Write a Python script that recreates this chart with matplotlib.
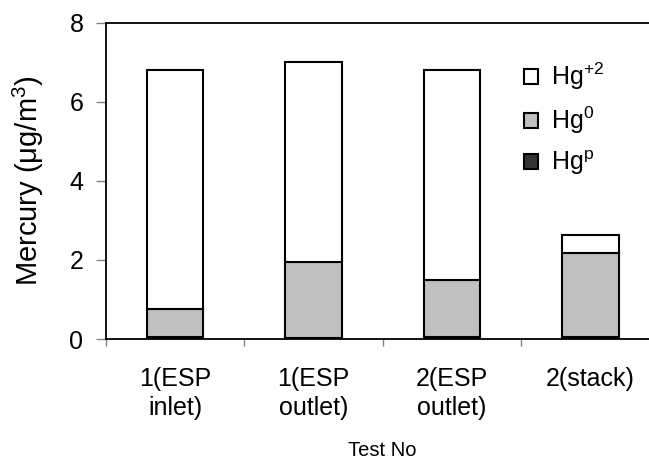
import matplotlib.pyplot as plt
import numpy as np
from matplotlib.patches import Patch

plt.rcParams["font.family"] = ["Liberation Sans", "DejaVu Sans"]
plt.rcParams["mathtext.fontset"] = "custom"
plt.rcParams["mathtext.rm"] = "Liberation Sans"
plt.rcParams["mathtext.it"] = "Liberation Sans"

# values (ug/m3)
tests = ["1(ESP\ninlet)", "1(ESP\noutlet)", "2(ESP\noutlet)", "2(stack)"]
hg_p = [0.05, 0.02, 0.05, 0.05]
hg_0 = [0.70, 1.92, 1.44, 2.13]
hg_2 = [6.05, 5.07, 5.31, 0.45]
y_ticks = [0, 2, 4, 6, 8]

fig = plt.figure(figsize=(6.49, 4.62), dpi=100)
ax = fig.add_axes([0.1629, 0.2662, 0.8536, 0.6847])

x = np.arange(len(tests))
width = 0.41
edge = dict(edgecolor="black", linewidth=1.5)
ax.bar(x, hg_p, width, color="#333333", **edge)
ax.bar(x, hg_0, width, bottom=hg_p, color="#c0c0c0", **edge)
bottom2 = np.array(hg_p) + np.array(hg_0)
ax.bar(x, hg_2, width, bottom=bottom2, color="white", **edge)

ax.set_xlim(-0.5, len(tests) - 0.5)
ax.set_ylim(0, 8)
ax.set_yticks(y_ticks)
ax.tick_params(axis="y", labelsize=18, length=7, width=1, color="#808080", pad=9)

# tick marks between categories, labels at the centres
ax.set_xticks(np.arange(len(tests) + 1) - 0.5)
ax.set_xticklabels([])
ax.tick_params(axis="x", which="major", length=5, width=1, color="#808080")
ax.set_xticks(x, minor=True)
ax.set_xticklabels(tests, minor=True, fontsize=18, linespacing=1.3)
ax.tick_params(axis="x", which="minor", length=0, pad=20)

for side in ["left", "bottom", "top", "right"]:
    ax.spines[side].set_linewidth(1.3)
    ax.spines[side].set_color("black")

ax.set_xlabel("Test No", fontsize=14.5, labelpad=15)
ax.set_ylabel("Mercury (μg/m$^{3}$)", fontsize=21)
ax.yaxis.set_label_coords(-0.108, 0.50)

handles = [
    Patch(facecolor="white", **edge),
    Patch(facecolor="#c0c0c0", **edge),
    Patch(facecolor="#333333", **edge),
]
labels = ["Hg$^{+2}$", "Hg$^{0}$", "Hg$^{p}$"]
ax.legend(handles, labels, loc="upper left", bbox_to_anchor=(0.807, 0.868),
          bbox_transform=fig.transFigure, frameon=False, fontsize=18,
          handlelength=0.56, handleheight=0.56, handletextpad=0.55,
          labelspacing=0.5, borderpad=0, borderaxespad=0)

fig.savefig("out.png", dpi=100)
